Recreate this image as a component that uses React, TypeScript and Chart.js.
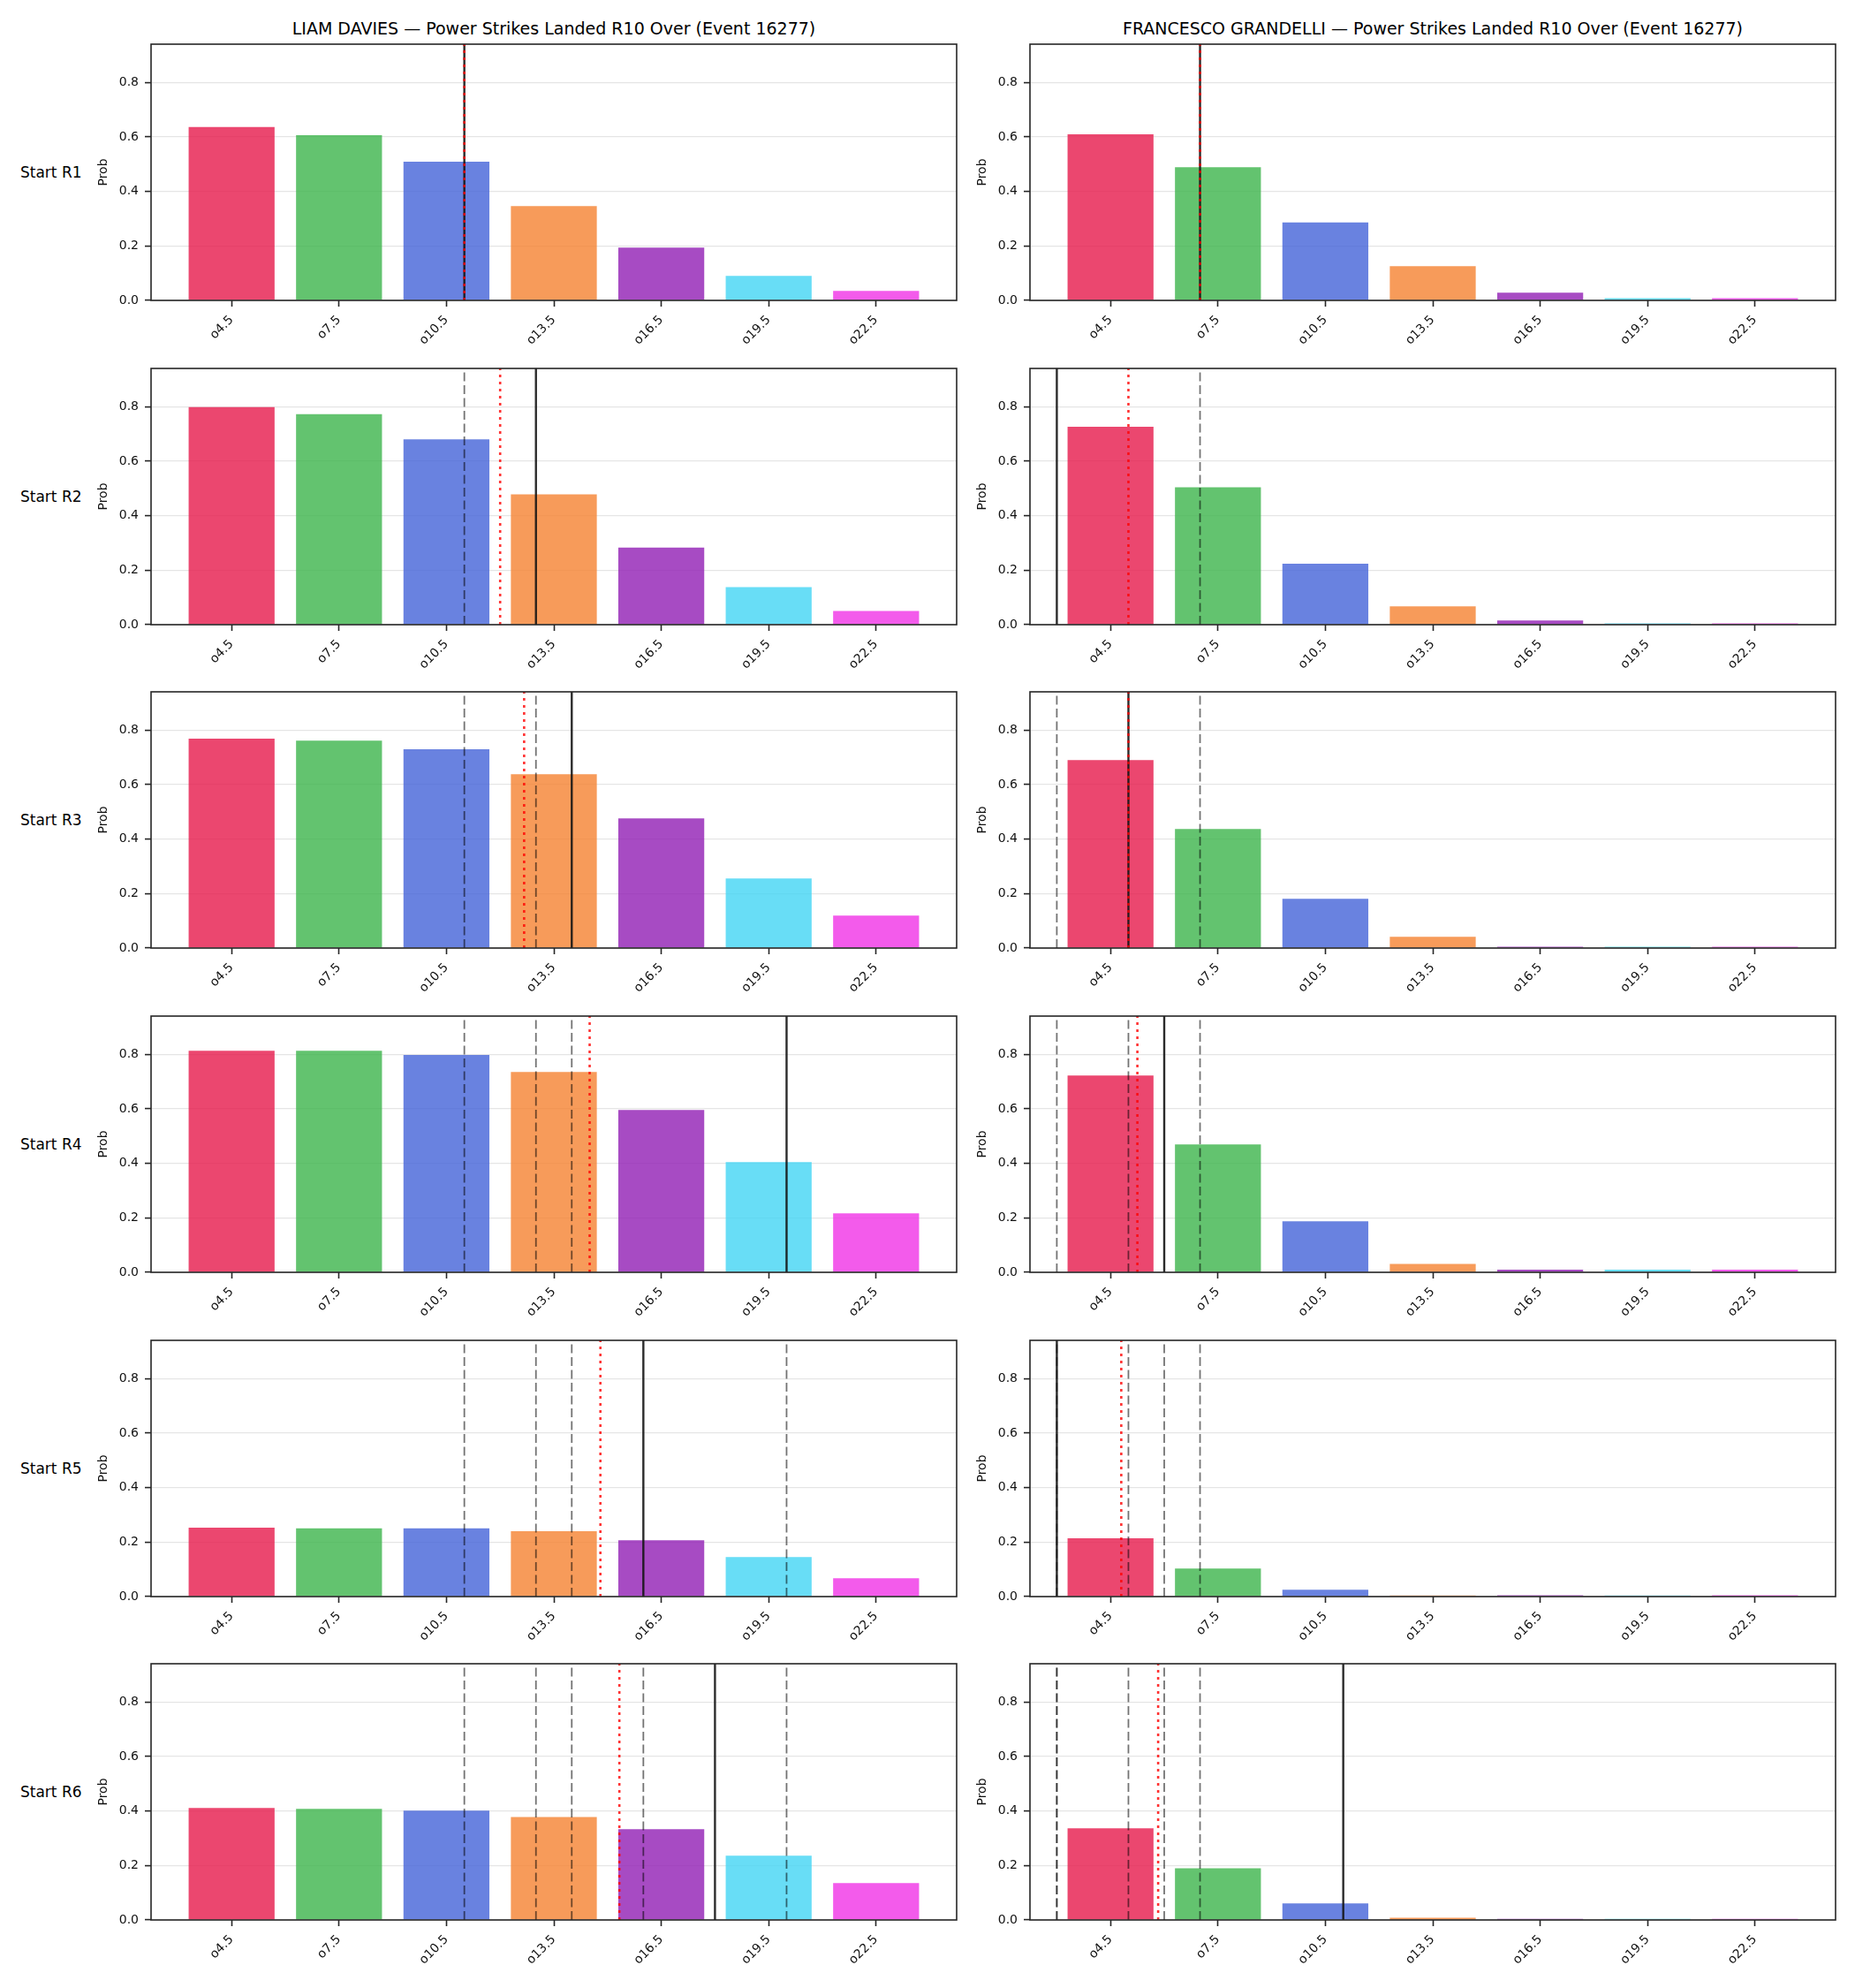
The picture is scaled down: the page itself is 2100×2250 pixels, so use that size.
import React, { useEffect, useRef } from "react";
import { Chart, registerables } from "chart.js";

Chart.register(...registerables);

// ---- data ---------------------------------------------------------------
const THRESHOLDS = [4.5, 7.5, 10.5, 13.5, 16.5, 19.5, 22.5];
const TICK_LABELS = ["o4.5", "o7.5", "o10.5", "o13.5", "o16.5", "o19.5", "o22.5"];
const Y_TICKS = [0, 0.2, 0.4, 0.6, 0.8];
const ROUND_LABELS = ["Start R1", "Start R2", "Start R3", "Start R4", "Start R5", "Start R6"];
const FIGHTERS = ["LIAM DAVIES", "FRANCESCO GRANDELLI"];
const MARKET = "Power Strikes Landed R10 Over (Event 16277)";

// P(over) per threshold, by starting round
const DAVIES_R1 = [0.636, 0.606, 0.509, 0.346, 0.194, 0.09, 0.035];
const DAVIES_R2 = [0.798, 0.772, 0.68, 0.478, 0.283, 0.138, 0.05];
const DAVIES_R3 = [0.768, 0.761, 0.729, 0.638, 0.476, 0.255, 0.119];
const DAVIES_R4 = [0.813, 0.813, 0.797, 0.735, 0.596, 0.404, 0.216];
const DAVIES_R5 = [0.253, 0.25, 0.25, 0.24, 0.207, 0.145, 0.067];
const DAVIES_R6 = [0.411, 0.408, 0.401, 0.378, 0.333, 0.236, 0.135];

const GRANDELLI_R1 = [0.609, 0.489, 0.286, 0.126, 0.028, 0.008, 0.008];
const GRANDELLI_R2 = [0.726, 0.504, 0.224, 0.067, 0.015, 0.005, 0.005];
const GRANDELLI_R3 = [0.69, 0.437, 0.181, 0.041, 0.005, 0.005, 0.005];
const GRANDELLI_R4 = [0.722, 0.469, 0.187, 0.031, 0.01, 0.01, 0.01];
const GRANDELLI_R5 = [0.214, 0.103, 0.025, 0.004, 0.005, 0.004, 0.005];
const GRANDELLI_R6 = [0.336, 0.19, 0.061, 0.008, 0.004, 0.004, 0.004];

// per-round strike pace (solid) and running average (dotted)
const DAVIES_PACE = [11, 13, 14, 20, 16, 18];
const DAVIES_AVG = [11, 12, 12.67, 14.5, 14.8, 15.33];
const GRANDELLI_PACE = [7, 3, 5, 6, 3, 11];
const GRANDELLI_AVG = [7, 5, 5, 5.25, 4.8, 5.83];

const DAVIES_PROBS = [DAVIES_R1, DAVIES_R2, DAVIES_R3, DAVIES_R4, DAVIES_R5, DAVIES_R6];
const GRANDELLI_PROBS = [GRANDELLI_R1, GRANDELLI_R2, GRANDELLI_R3, GRANDELLI_R4, GRANDELLI_R5, GRANDELLI_R6];

// ---- styling / layout ---------------------------------------------------
const BAR_COLORS = [
  "rgba(230,25,75,0.8)",
  "rgba(60,180,75,0.8)",
  "rgba(67,99,216,0.8)",
  "rgba(245,130,49,0.8)",
  "rgba(145,30,180,0.8)",
  "rgba(66,212,244,0.8)",
  "rgba(240,50,230,0.8)",
];
const FONT = "'DejaVu Sans', sans-serif";
const Y_MAX = 0.94;
const X_MIN = -0.75;
const X_MAX = 6.75;

const COL_LEFT = [171, 1166];
const AX_W = 912;
const AX_H = 290;
const ROW_TOP = [50, 417, 783, 1150, 1517, 1883];
const Y_AXIS_W = 70;
const X_AXIS_H = 64;
const PAD_TOP = 16;
const PAD_RIGHT = 14;

const spinesPlugin = {
  id: "spines",
  afterDraw(chart: any) {
    const { ctx, chartArea: a } = chart;
    ctx.save();
    ctx.strokeStyle = "#262626";
    ctx.lineWidth = 1.6;
    ctx.strokeRect(a.left, a.top, a.right - a.left, a.bottom - a.top);
    ctx.restore();
  },
};

type PanelProps = {
  probs: number[];
  pace: number[];
  avg: number[];
  round: number;
  left: number;
  top: number;
};

function Panel({ probs, pace, avg, round, left, top }: PanelProps) {
  const ref = useRef<HTMLCanvasElement | null>(null);

  useEffect(() => {
    if (!ref.current) return;
    const step = THRESHOLDS[1] - THRESHOLDS[0];
    const toIdx = (v: number) => (v - THRESHOLDS[0]) / step;
    const vline = (v: number, style: any) => ({
      type: "line",
      data: [
        { x: toIdx(v), y: 0 },
        { x: toIdx(v), y: Y_MAX },
      ],
      pointRadius: 0,
      fill: false,
      tension: 0,
      ...style,
    });

    const datasets: any[] = [
      {
        type: "bar",
        data: probs.map((p, i) => ({ x: i, y: p })),
        backgroundColor: BAR_COLORS,
        borderWidth: 0,
        minBarLength: 1,
        barPercentage: 0.8,
        categoryPercentage: 1,
        order: 10,
      },
      ...pace.slice(0, round).map((v) =>
        vline(v, { borderColor: "rgba(0,0,0,0.55)", borderWidth: 1.8, borderDash: [10, 4.5], order: 3 })
      ),
      vline(pace[round], { borderColor: "rgba(20,20,20,0.9)", borderWidth: 2.4, order: 2 }),
      vline(avg[round], { borderColor: "rgba(255,0,0,0.8)", borderWidth: 2.6, borderDash: [3, 5], order: 1 }),
    ];

    const chart = new Chart(ref.current, {
      type: "bar",
      data: { datasets },
      plugins: [spinesPlugin],
      options: {
        responsive: false,
        animation: false,
        devicePixelRatio: 1,
        layout: { padding: { top: PAD_TOP, right: PAD_RIGHT, left: 0, bottom: 0 } },
        plugins: {
          legend: { display: false },
          tooltip: { enabled: false },
          title: { display: false },
        },
        scales: {
          x: {
            type: "linear",
            min: X_MIN,
            max: X_MAX,
            offset: false,
            bounds: "data",
            afterBuildTicks: (s: any) => {
              s.ticks = TICK_LABELS.map((_, i) => ({ value: i }));
            },
            afterFit: (s: any) => {
              s.height = X_AXIS_H;
            },
            grid: {
              display: true,
              offset: false,
              drawOnChartArea: false,
              drawTicks: true,
              tickLength: 7,
              tickWidth: 1.6,
              tickColor: "#262626",
            },
            border: { display: false },
            ticks: {
              autoSkip: false,
              minRotation: 45,
              maxRotation: 45,
              padding: 7,
              color: "#111",
              font: { family: FONT, size: 14 },
              callback: (v: any) => TICK_LABELS[v] ?? "",
            },
          },
          y: {
            type: "linear",
            min: 0,
            max: Y_MAX,
            bounds: "data",
            afterBuildTicks: (s: any) => {
              s.ticks = Y_TICKS.map((v) => ({ value: v }));
            },
            afterFit: (s: any) => {
              s.width = Y_AXIS_W;
            },
            grid: {
              color: "rgba(0,0,0,0.1)",
              lineWidth: 1.2,
              drawTicks: true,
              tickLength: 7,
              tickWidth: 1.6,
              tickColor: "#262626",
            },
            border: { display: false },
            ticks: {
              padding: 7,
              color: "#111",
              font: { family: FONT, size: 14 },
              callback: (v: any) => Number(v).toFixed(1),
            },
            title: {
              display: true,
              text: "Prob",
              color: "#111",
              font: { family: FONT, size: 14 },
              padding: { top: 7.6, bottom: 0 },
            },
          },
        },
      } as any,
    });
    return () => chart.destroy();
  }, [probs, pace, avg, round]);

  const w = Y_AXIS_W + AX_W + PAD_RIGHT;
  const h = PAD_TOP + AX_H + X_AXIS_H;
  return (
    <canvas
      ref={ref}
      width={w}
      height={h}
      style={{ position: "absolute", left: left - Y_AXIS_W, top: top - PAD_TOP, width: w, height: h }}
    />
  );
}

export default function App() {
  const columns = [
    { name: FIGHTERS[0], probs: DAVIES_PROBS, pace: DAVIES_PACE, avg: DAVIES_AVG },
    { name: FIGHTERS[1], probs: GRANDELLI_PROBS, pace: GRANDELLI_PACE, avg: GRANDELLI_AVG },
  ];
  return (
    <div
      style={{
        position: "absolute",
        left: 0,
        top: 0,
        width: 2100,
        height: 2250,
        background: "#fff",
        fontFamily: FONT,
        color: "#000",
        overflow: "hidden",
      }}
    >
      {columns.map((c, ci) => (
        <div
          key={"t" + ci}
          style={{
            position: "absolute",
            left: COL_LEFT[ci] + AX_W / 2 - 600,
            width: 1200,
            top: 21,
            fontSize: 19,
            lineHeight: "22px",
            textAlign: "center",
            whiteSpace: "nowrap",
          }}
        >
          {`${c.name} — ${MARKET}`}
        </div>
      ))}
      {ROUND_LABELS.map((lbl, ri) => (
        <div
          key={"r" + ri}
          style={{
            position: "absolute",
            left: 23,
            top: ROW_TOP[ri] + AX_H / 2 - 10,
            fontSize: 17,
            lineHeight: "20px",
            whiteSpace: "nowrap",
          }}
        >
          {lbl}
        </div>
      ))}
      {columns.map((c, ci) =>
        ROUND_LABELS.map((_, ri) => (
          <Panel
            key={`p${ci}-${ri}`}
            probs={c.probs[ri]}
            pace={c.pace}
            avg={c.avg}
            round={ri}
            left={COL_LEFT[ci]}
            top={ROW_TOP[ri]}
          />
        ))
      )}
    </div>
  );
}
